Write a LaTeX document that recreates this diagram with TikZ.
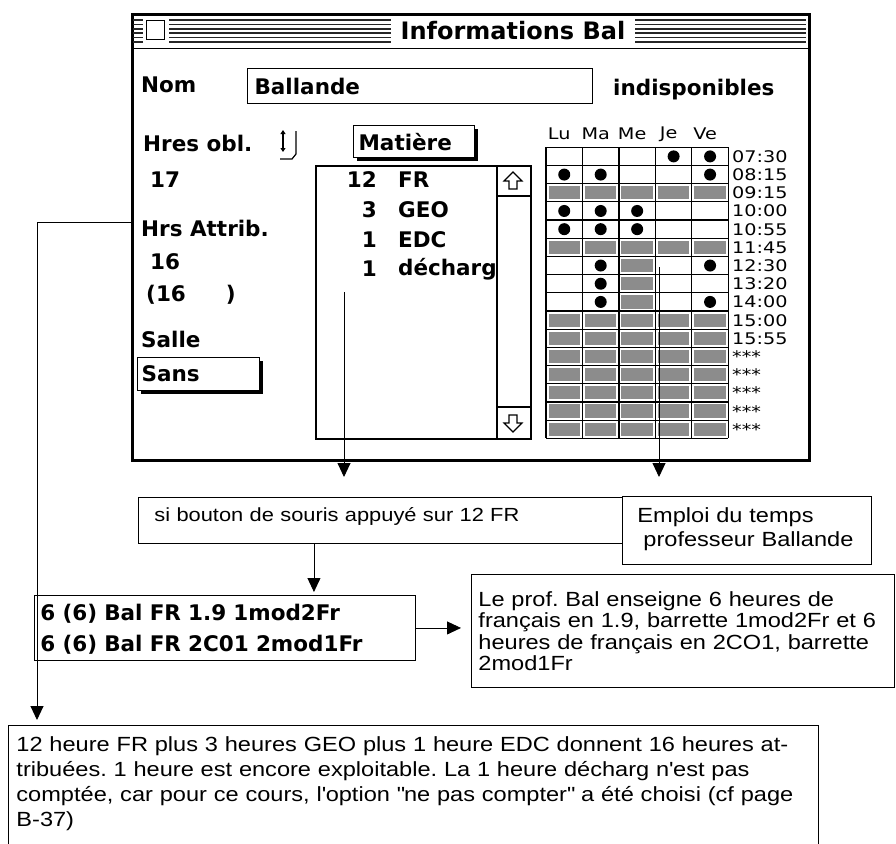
\documentclass[tikz,border=0pt]{standalone}
\usepackage{fontspec}
\setmainfont{Liberation Sans}[FakeStretch=1.15]
\newfontfamily\macfont{DejaVu Sans}
\newfontfamily\genfont[FakeStretch=1.2]{DejaVu Sans}
\usetikzlibrary{arrows.meta,positioning,calc,shadows}
\definecolor{dither}{gray}{0.55}
\newcommand{\dq}{\XeTeXglyph\XeTeXglyphindex "quotedbl" }
\newcommand{\sq}{\XeTeXglyph\XeTeXglyphindex "quotesingle" }
\frenchspacing

\begin{document}
\begin{tikzpicture}[x=1pt, y=-1pt,
    mac/.style={font={\macfont\bfseries\fontsize{21.5}{26}\selectfont}, inner sep=0pt},
    gen/.style={font={\genfont\fontsize{16}{18}\selectfont}, inner sep=0pt},
    field/.style={draw, line width=1.2pt, inner sep=0pt},
    button/.style={draw, fill=white, line width=1.2pt, drop shadow={shadow xshift=3pt, shadow yshift=-3pt, opacity=1, fill=black}},
    note/.style={draw, line width=0.9pt, fill=white, align=left, inner ysep=4pt, font={\fontsize{20.5}{24}\selectfont}},
    arrow/.style={-{Triangle[length=14pt,width=13pt]}, line width=0.9pt, draw=black},
    cellgrid/.style={line width=1.2pt}
]
\useasboundingbox (0,0) rectangle (896,843);

% fenetre
\node[draw, line width=2.6pt, minimum width=677pt, minimum height=446pt, anchor=north west, inner sep=0pt] (win) at (131,13) {};
\draw[line width=1.6pt] (131,48.5) -- (808,48.5);
\foreach \y in {20,24.4,28.8,33.2,37.6,42}
  \draw[line width=1.5pt, black!85] (133,\y) -- (806,\y);
\fill[white] (143,17) rectangle (169,45);
\node[draw, fill=white, line width=1.2pt, minimum width=18pt, minimum height=19pt, inner sep=0pt] (closebox) at (155.5,30) {};
\node[mac, font={\macfont\bfseries\fontsize{24}{26}\selectfont}, fill=white, inner xsep=10pt, minimum height=29pt] (title) at (513,31) {Informations Bal};

\node[mac, anchor=west] (nom) at (141,85) {Nom};
\node[mac, field, anchor=north west, minimum height=35pt, text width=331pt, inner xsep=7pt, align=left] (namebox) at (247,68) {Ballande};
\node[mac, anchor=west] (indisp) at (613,90) {indisponibles};

\node[mac, anchor=west] (hres) at (143,143) {Hres obl.};
\draw[{Triangle[length=4pt,width=5pt]}-{Triangle[length=4pt,width=5pt]}, line width=1.2pt] (283,130) -- (283,152);
\draw[line width=1.2pt] (296,131) -- (296,154) -- (292,159) -- (280,159);
\node[mac, anchor=west] (hresval) at (150,180) {17};
\node[mac, anchor=west] (attrib) at (141,228) {Hrs Attrib.};
\node[mac, anchor=west] (attribval) at (150,262) {16};
\node[mac, anchor=west] (attribpar) at (146,295) {(16\hspace{40pt})};
\node[mac, anchor=west] (salle) at (141,339) {Salle};
\node[mac, button, anchor=north west, minimum height=33pt, text width=114pt, inner xsep=4pt, inner ysep=0pt, align=left] (sallebox) at (137,357) {Sans};

% liste des matieres
\node[mac, button, anchor=north west, minimum height=32pt, text width=111pt, inner xsep=5pt, inner ysep=0pt, align=left] (matiere) at (353,125) {Matière};
\node[draw, line width=1.5pt, anchor=north west, minimum width=215pt, minimum height=273pt, inner sep=0pt] (list) at (315,165) {};
\draw[line width=1.5pt] (497,165) -- (497,438);
\draw[line width=1.5pt] (497,196) -- (530,196) (497,407) -- (530,407);
\draw[line width=1.1pt] (513,172) -- (522,181) -- (517,181) -- (517,189) -- (509,189) -- (509,181) -- (504,181) -- cycle;
\draw[line width=1.1pt] (513,432) -- (522,423) -- (517,423) -- (517,415) -- (509,415) -- (509,423) -- (504,423) -- cycle;
\begin{scope}
  \clip (316,166) rectangle (496,437);
  \foreach \n/\s/\y [count=\i] in {12/FR/180,3/GEO/210,1/EDC/240,1/décharg/269} {
    \node[mac, anchor=east] (hrs\i) at (377,\y) {\n};
    \node[mac, anchor=west] (mat\i) at (398,\y) {\s};
  }
\end{scope}
\coordinate (listpt) at (344,292);

% emploi du temps
\foreach \d [count=\c] in {Lu,Ma,Me,Je,Ve}
  \node[gen] (day\c) at ({546+36.46*(\c-0.5)-5},134) {\d};
\foreach \r in {3,6,10,11,12,13,14,15,16}
  \foreach \c in {1,...,5}
    \fill[dither] ({546+36.46*(\c-1)+2.5},{147.3+18.19*(\r-1)+2.5}) rectangle ++(31.5,13.2);
\foreach \r in {7,8,9}
  \fill[dither] ({546+36.46*2+2.5},{147.3+18.19*(\r-1)+2.5}) rectangle ++(31.5,13.2);
\foreach \c in {0,...,5}
  \draw[cellgrid] ({546+36.46*\c},147.3) -- ++(0,291);
\foreach \r in {0,...,16}
  \draw[cellgrid] (546,{147.3+18.19*\r}) -- (728.3,{147.3+18.19*\r});
\foreach \r/\c in {1/4,1/5,2/1,2/2,2/5,4/1,4/2,4/3,5/1,5/2,5/3,7/2,7/5,8/2,9/2,9/5}
  \fill ({546+36.46*(\c-0.5)},{147.3+18.19*(\r-0.5)}) circle (6pt);
\foreach \t [count=\r] in {07:30,08:15,09:15,10:00,10:55,11:45,12:30,13:20,14:00,15:00,15:55,***,***,***,***,***}
  \node[gen, anchor=base west] (time\r) at (732,{147.3+18.19*(\r-0.5)+6}) {\t};
\coordinate (gridpt) at (659,267);

% annotations
\node[note, font={\fontsize{19}{24}\selectfont}, anchor=north west, text width=453pt, inner xsep=16pt, inner ysep=8pt, text height=16pt, text depth=14pt] (sibox) at (138,497) {si bouton de souris appuyé sur 12 FR};
\node[note, anchor=north west, text width=219pt, inner xsep=15pt, inner ysep=8pt, text height=18pt, text depth=34pt] (emploi) at (622,496) {Emploi du temps\\\hspace*{6pt}professeur Ballande};
\node[mac, note, font={\macfont\bfseries\fontsize{21.5}{31}\selectfont}, anchor=north west, text width=369pt, inner xsep=6pt, inner ysep=4pt, text height=21.5pt, text depth=35.5pt] (course) at (34,595) {6 (6) Bal FR 1.9 1mod2Fr\\6 (6) Bal FR 2C01 2mod1Fr};
\node[note, font={\fontsize{20.5}{21.5}\selectfont}, anchor=north west, text width=409pt, inner xsep=7pt, inner ysep=4pt, text height=28pt, text depth=77pt] (prof) at (471,574) {Le prof. Bal enseigne 6 heures de\\français en 1.9, barrette 1mod2Fr et 6\\heures de français en 2CO1, barrette\\2mod1Fr};
\node[note, font={\fontsize{20.5}{25}\selectfont}, anchor=north west, text width=794pt, inner xsep=8pt, inner ysep=4pt, text height=22pt, text depth=200pt] (note) at (8,725) {12 heure FR plus 3 heures GEO plus 1 heure EDC donnent 16 heures at-\\tribuées. 1 heure est encore exploitable. La 1 heure décharg n\sq est pas\\comptée, car pour ce cours, l\sq option \dq ne pas compter\dq{} a été choisi (cf page\\B-37)};

\draw[arrow, shorten >=20pt] (listpt) -- (listpt |- sibox.north);
\draw[arrow, shorten >=19pt] (gridpt) -- (gridpt |- emploi.north);
\draw[arrow, shorten >=3pt] ([xshift=-67pt]sibox.south) -- ([xshift=-67pt]sibox.south |- course.north);
\draw[arrow, shorten >=10pt] (course.east) -- (course.east -| prof.west);
\draw[arrow, shorten >=5pt] ([yshift=6pt]attrib.west -| win.west) -| ([xshift=29pt]note.north west);

\end{tikzpicture}
\end{document}
